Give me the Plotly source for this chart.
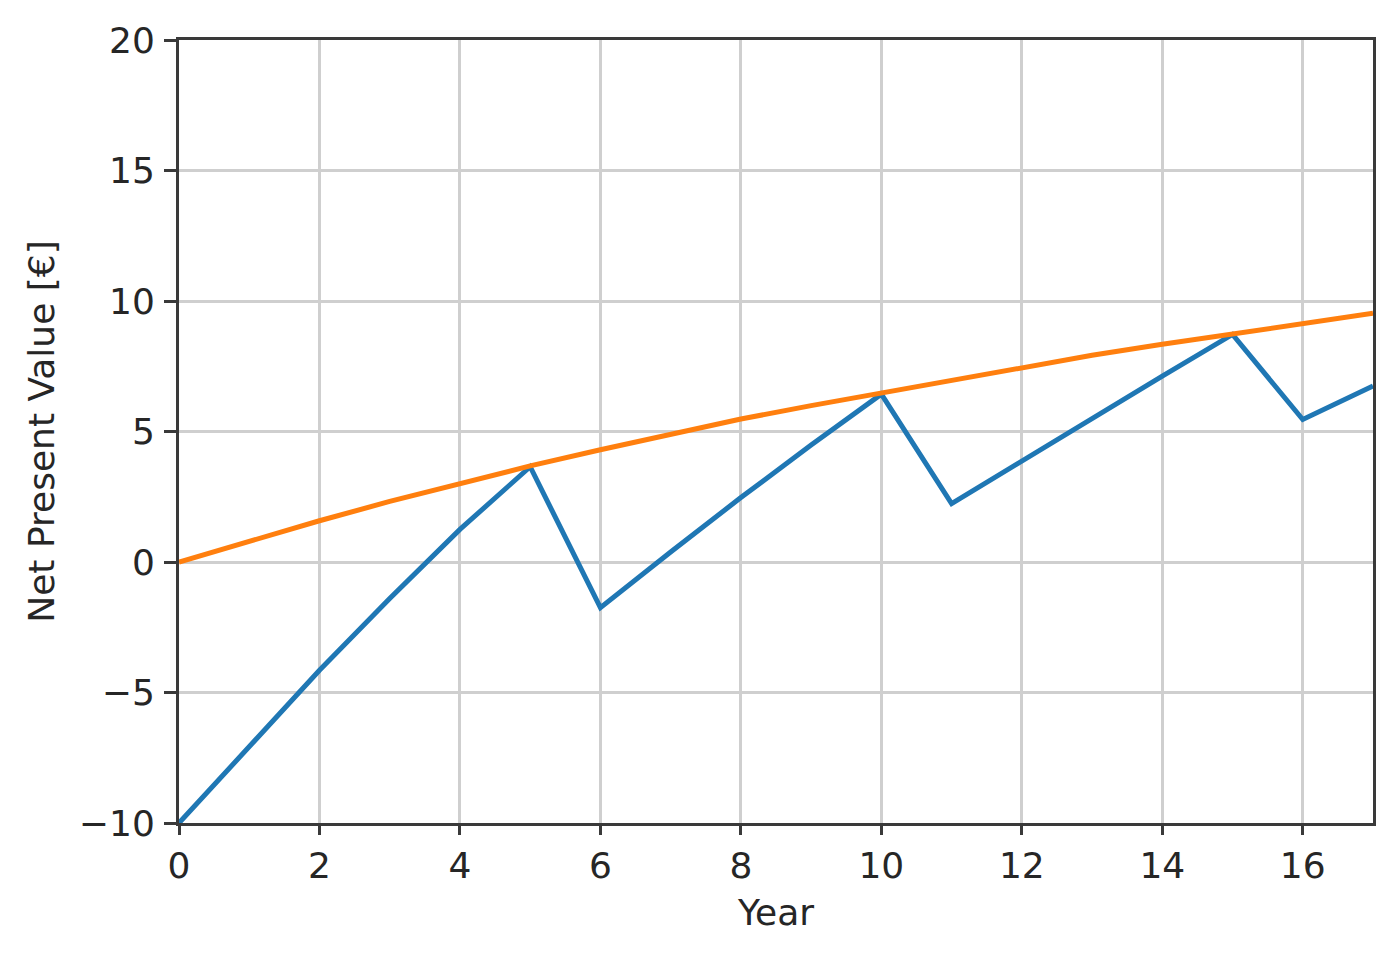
import plotly.graph_objects as go


# =====================================
# DATA
# =====================================

years = list(range(0, 18))

npv_with_replacement = [
    -10.0, -7.05, -4.15, -1.4, 1.25, 3.65,
    -1.75, 0.38, 2.47, 4.48, 6.43,
    2.24, 3.88, 5.5, 7.12, 8.72,
    5.46, 6.74
]

npv_without_replacement = [
    0.0, 0.8, 1.58, 2.32, 3.02, 3.68,
    4.3, 4.9, 5.48, 5.99, 6.47,
    6.97, 7.47, 7.92, 8.34, 8.74,
    9.15, 9.53
]

x_ticks = [0, 2, 4, 6, 8, 10, 12, 14, 16]
y_ticks = [-10, -5, 0, 5, 10, 15, 20]


# =====================================
# FIGURE
# =====================================

fig = go.Figure()

fig.add_trace(
    go.Scatter(
        x=years,
        y=npv_with_replacement,
        mode="lines",
        line=dict(color="#1f77b4", width=5),
        showlegend=False
    )
)

fig.add_trace(
    go.Scatter(
        x=years,
        y=npv_without_replacement,
        mode="lines",
        line=dict(color="#ff7f0e", width=5),
        showlegend=False
    )
)

axis_style = dict(
    showline=True,
    linecolor="#3a3a3a",
    linewidth=3,
    mirror=True,
    ticks="outside",
    tickwidth=3,
    tickcolor="#3a3a3a",
    showgrid=True,
    gridcolor="#cfcfcf",
    gridwidth=3,
    zeroline=False,
    tickfont=dict(size=36, color="#262626")
)

fig.update_xaxes(
    range=[0, 17],
    tickvals=x_ticks,
    ticklen=9,
    title=dict(text="Year", font=dict(size=36, color="#262626"), standoff=15),
    **axis_style
)

fig.update_yaxes(
    range=[-10, 20],
    tickvals=y_ticks,
    ticklen=12,
    ticklabelstandoff=2,
    title=dict(
        text="Net Present Value [€]",
        font=dict(size=36, color="#262626"),
        standoff=14
    ),
    **axis_style
)

fig.update_layout(
    width=1400,
    height=955,
    margin=dict(l=171, r=35, t=28, b=140),
    paper_bgcolor="white",
    plot_bgcolor="white",
    font=dict(family="DejaVu Sans")
)

fig.write_html("out.html")
